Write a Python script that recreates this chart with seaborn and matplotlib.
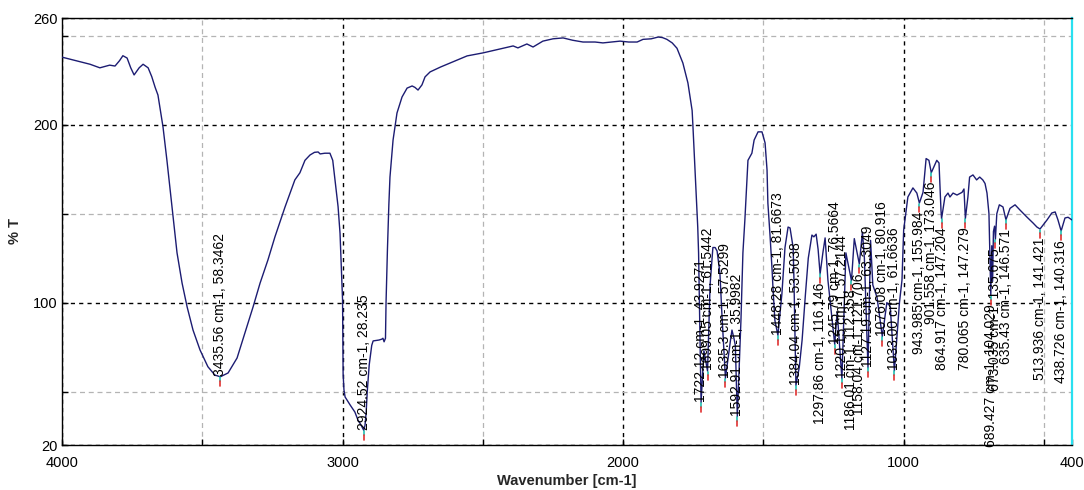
import matplotlib
matplotlib.use("Agg")
import matplotlib.pyplot as plt
from matplotlib.ticker import FixedLocator, NullFormatter
import numpy as np
import pandas as pd
import seaborn as sns

# ---- spectrum trace (wavenumber in cm-1, transmittance in %T) ----
trace_wn = [
    4000, 3950, 3900, 3865, 3830, 3811, 3795, 3783, 3768, 3755, 3743, 3725, 3711,
    3693, 3680, 3668, 3658, 3640, 3626, 3608, 3590, 3572, 3554, 3533, 3508, 3480,
    3455, 3408, 3376, 3348, 3319, 3294, 3266, 3241, 3205, 3170, 3152, 3134, 3116,
    3100, 3087, 3080, 3063, 3045, 3035, 3027, 3016, 3009, 3003, 3000, 2998, 2995,
    2991, 2973, 2956, 2945, 2934, 2920, 2916, 2912, 2905, 2896, 2891, 2870, 2860,
    2856, 2852, 2847, 2845, 2840, 2835, 2831, 2820, 2806, 2788, 2770, 2752, 2742,
    2731, 2717, 2706, 2688, 2650, 2617, 2556, 2499, 2439, 2392, 2375, 2343, 2321,
    2286, 2250, 2214, 2180, 2143, 2100, 2072, 2040, 2011, 1980, 1950, 1929, 1900,
    1875, 1860, 1844, 1825, 1808, 1787, 1769, 1754, 1751, 1744, 1737, 1734, 1731,
    1727, 1712, 1690, 1680, 1672, 1665, 1655, 1648, 1618, 1612, 1605, 1600, 1580,
    1573, 1566, 1555, 1541, 1533, 1519, 1505, 1494, 1487, 1484, 1476, 1469, 1466,
    1459, 1434, 1423, 1412, 1405, 1394, 1391, 1387, 1372, 1362, 1350, 1340, 1327,
    1320, 1312, 1305, 1288, 1280, 1270, 1255, 1237, 1206, 1176, 1147, 1140, 1118,
    1110, 1095, 1060, 1048, 1015, 1006, 1000, 985, 967, 953, 931, 920, 910, 882,
    874, 867, 853, 842, 835, 824, 810, 792, 785, 771, 765, 753, 740, 729, 718, 710,
    703, 696, 686, 683, 680, 676, 668, 659, 646, 621, 603, 585, 560, 539, 525, 489,
    472, 460, 450, 425, 414, 400,
]
trace_t = [
    238, 236, 234, 232, 233.5, 233, 236, 238.8, 237.5, 232, 228, 232, 234,
    232, 227, 221, 216.7, 198.8, 180, 153.8, 128, 111, 97.6, 84.6, 73.4, 64,
    59.3, 60.5, 68.9, 83, 97.6, 111, 124, 137, 153.8, 169, 173, 180, 183,
    184.5, 184.7, 183.6, 184, 184, 180, 169, 154, 139, 115, 101.5, 60, 51,
    47, 42.5, 38.5, 34, 31.2, 31, 38, 50, 65, 76, 78.5, 79, 79.5,
    80, 78, 80, 100, 130, 155, 170.6, 191.4, 206.6, 215.6, 220.6, 221.8, 221,
    219.5, 222.4, 226.9, 229.7, 232.5, 234.7, 238.7, 240.4, 242.6, 244.3, 243.2, 245.4, 243.7,
    247, 248.3, 248.8, 247.5, 246.5, 246.5, 246, 246.5, 247, 246.5, 246.5, 248, 248.3,
    249.3, 249, 248, 246, 243, 234.7, 223.5, 208, 198.8, 176, 153.8, 142.5, 128,
    90, 73, 110, 131, 131, 129, 116.7, 94, 78, 84.6, 80, 76, 90,
    128, 146.5, 180, 184, 191.4, 196, 196, 189.8, 174.6, 156, 137, 118.4, 108.8,
    90, 105, 131, 142.5, 142, 131, 112.7, 79, 63.8, 79, 105, 125, 138,
    137, 138.5, 130, 128, 136.4, 112.7, 90, 95, 128, 136, 139.7, 125, 135,
    110, 103, 100, 98, 100, 112.7, 140.8, 159.4, 164.5, 161.6, 162, 181, 180, 180,
    178.5, 152, 159.4, 161.6, 159.4, 161.6, 160.5, 162, 163.9, 159.4, 170.6, 171.8, 169, 170.6, 169, 167,
    161.6, 150, 132, 112, 140, 143, 150, 155, 153.8, 153, 155, 152, 148, 144.8, 142.5, 146.5,
    150.4, 151, 146.5, 147.6, 148, 146.5,
]

# ---- picked peaks: position text, value text, label placement ----
peak_wn_txt = [
    "3435.56", "2924.52", "1722.12", "1699.05", "1635.3", "1592.91", "1448.28",
    "1384.04", "1297.86", "1245.79", "1220.15", "1186.01", "1158.04", "1127.19",
    "1076.08", "1033.00", "943.985", "901.558", "864.917", "780.065", "689.427",
    "673.035", "635.43", "513.936", "438.726",
]
peak_t_txt = [
    "58.3462", "28.235", "43.9271", "61.5442", "57.5299", "35.9982", "81.6673",
    "53.5038", "116.146", "76.5664", "57.2144", "112.358", "121.706", "63.3049",
    "80.916", "61.6636", "155.984", "173.046", "147.204", "147.279", "104.029",
    "135.675", "146.571", "141.421", "140.316",
]
peak_side = [
    "up", "up", "up", "up", "up", "up", "up",
    "up", "down", "up", "up", "down", "down", "up",
    "up", "up", "down", "down", "down", "down", "down",
    "down", "down", "down", "down",
]

peak_wn = [float(v) for v in peak_wn_txt]
peak_t = [float(v) for v in peak_t_txt]

# Merge trace and peak minima into one spectrum
spec = pd.DataFrame({
    "wn": trace_wn + peak_wn,
    "T": trace_t + peak_t,
}).sort_values("wn", ascending=False).reset_index(drop=True)

sns.set_theme(style="white")
plt.rcParams["font.family"] = ["Liberation Sans", "DejaVu Sans"]

fig = plt.figure(figsize=(10.84, 4.90), dpi=100)
ax = fig.add_axes([62 / 1084, 45 / 490, 1010 / 1084, 427 / 490])

sns.lineplot(data=spec, x="wn", y="T", ax=ax, color="#1c1c72", linewidth=1.0,
             sort=False, estimator=None, zorder=4)

# peak markers and labels
for wn, t, wtxt, ttxt, side in zip(peak_wn, peak_t, peak_wn_txt, peak_t_txt, peak_side):
    ax.plot([wn, wn], [t - 0.3, t - 2.4], color="#20c0b0", lw=1.2, zorder=5)
    ax.plot([wn, wn], [t - 2.4, t - 5.2], color="#e03030", lw=1.2, zorder=5)
    label = f"{wtxt} cm-1, {ttxt}"
    if side == "up":
        ax.annotate(label, (wn, t), xytext=(0, 0.5), textcoords="offset points",
                    rotation=90, ha="center", va="bottom", fontsize=10,
                    color="black", zorder=6)
    else:
        ax.annotate(label, (wn, t), xytext=(0, -6.5), textcoords="offset points",
                    rotation=90, ha="center", va="top", fontsize=10,
                    color="black", zorder=6)

ax.set_xlim(4000, 400)
ax.set_ylim(20, 260)

ax.xaxis.set_major_locator(FixedLocator([4000, 3000, 2000, 1000, 400]))
ax.xaxis.set_minor_locator(FixedLocator([3500, 2500, 1500, 500]))
ax.yaxis.set_major_locator(FixedLocator([20, 100, 200, 260]))
ax.yaxis.set_minor_locator(FixedLocator([50, 150, 250]))
ax.xaxis.set_minor_formatter(NullFormatter())
ax.yaxis.set_minor_formatter(NullFormatter())

ax.grid(True, which="major", color="black", linestyle=(0, (3, 3)), linewidth=1.0)
ax.grid(True, which="minor", color="#b4b4b4", linestyle=(0, (4, 3)), linewidth=0.9)
ax.set_axisbelow(True)

ax.tick_params(axis="both", which="both", direction="in", length=4, width=1,
               colors="black", labelsize=10.5, pad=3,
               bottom=True, left=True, top=False, right=False)
ax.tick_params(axis="x", which="major", pad=8)

for side in ("left", "bottom", "top"):
    ax.spines[side].set_color("black")
    ax.spines[side].set_linewidth(1.0)
ax.spines["right"].set_color("#29e0f0")
ax.spines["right"].set_linewidth(1.6)

ax.set_xlabel("Wavenumber [cm-1]", fontsize=10.5, fontweight="bold", labelpad=3)
ax.set_ylabel("% T", fontsize=10.5, fontweight="bold", labelpad=8)

fig.savefig("out.png", dpi=100)
